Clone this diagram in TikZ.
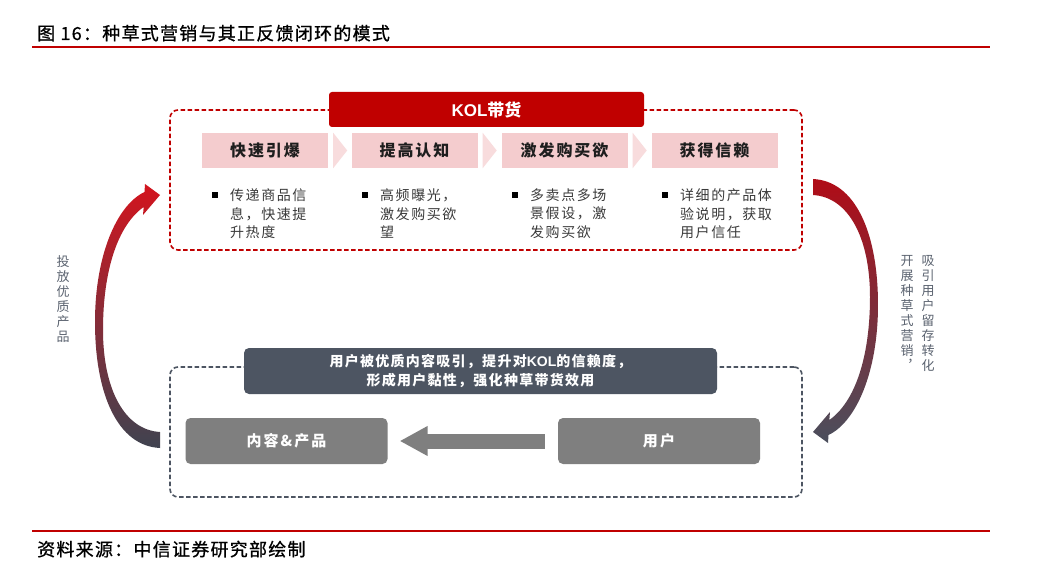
\documentclass[tikz,border=0pt]{standalone}
\usepackage{fontspec}
\setmainfont{Noto Sans CJK SC}
\newfontfamily\latinf{Liberation Sans}
\newfontfamily\cjkT[LetterSpace=7,FakeBold=0.8]{Noto Sans CJK SC}
\newfontfamily\cjkC[LetterSpace=12]{Noto Sans CJK SC}
\newfontfamily\cjkB[LetterSpace=11]{Noto Sans CJK SC}
\newfontfamily\cjkH[LetterSpace=9]{Noto Sans CJK SC}
\newfontfamily\cjkG[LetterSpace=14]{Noto Sans CJK SC}
\usetikzlibrary{arrows.meta,calc}
\definecolor{kred}{HTML}{C00000}
\definecolor{kslate}{HTML}{4D5562}
\definecolor{kgray}{HTML}{7F7F7F}
\definecolor{kpink}{HTML}{F4CCCE}
\definecolor{kpinkl}{HTML}{F8DCDD}
\definecolor{ktext}{HTML}{1E1E1E}
\definecolor{kbul}{HTML}{3A3A3A}
\definecolor{kvert}{HTML}{5B6370}
\definecolor{lred}{HTML}{D3141E}
\definecolor{lslate}{HTML}{3F4350}
\definecolor{rred}{HTML}{B00C17}
\definecolor{rslate}{HTML}{4A4F5D}
\tikzset{
  frame/.style={line width=1.6pt, dash pattern=on 4.5pt off 2.5pt, rounded corners=8pt, minimum width=632pt, inner sep=0pt},
  redhead/.style={fill=kred, rounded corners=3pt, minimum width=315pt, minimum height=35pt, inner sep=0pt, text=white, font=\fontsize{17}{19}\selectfont\bfseries},
  slatehead/.style={fill=kslate, rounded corners=5pt, minimum width=473pt, minimum height=46pt, inner sep=0pt, text=white, align=center, font=\cjkH\fontsize{14}{19}\selectfont\bfseries},
  chev/.style={fill=kpink, minimum width=126pt, minimum height=35pt, inner sep=0pt, text=ktext, font=\cjkC\fontsize{16}{18}\selectfont\bfseries},
  chevtip/.style={fill=kpinkl},
  bulsq/.style={fill=black, minimum size=6.5pt, inner sep=0pt},
  bultext/.style={anchor=north west, inner sep=0pt, align=left, text=kbul, font=\cjkB\fontsize{14}{18.5}\selectfont},
  graybox/.style={fill=kgray, rounded corners=5pt, minimum width=202pt, minimum height=46pt, inner sep=0pt, text=white, font=\cjkG\fontsize{15}{17}\selectfont\bfseries},
  grayarr/.style={draw=kgray, line width=15pt, -{Triangle[length=28pt,width=28pt]}},
  vtext/.style={anchor=north, inner sep=0pt, align=center, text=kvert, font=\fontsize{13}{15}\selectfont},
  rule/.style={draw=kred, line width=2.5pt},
  caption/.style={anchor=base west, inner sep=0pt, text=black, font=\cjkT\fontsize{18}{20}\selectfont}
}
\begin{document}
\begin{tikzpicture}[x=1pt,y=-1pt]
\useasboundingbox[fill=white] (0,0) rectangle (1037,588);

% title and footer
\node[caption] (title) at (37,40) {图 16：种草式营销与其正反馈闭环的模式};
\coordinate (tl) at (32,47); \coordinate (tr) at (990,47);
\draw[rule] (tl) -- (tr);
\coordinate (fl) at (32,531); \coordinate (fr) at (990,531);
\draw[rule] (fl) -- (fr);
\node[caption] (source) at (37,556) {资料来源：中信证券研究部绘制};

% top frame
\node[frame, draw=kred, minimum height=140pt] (topframe) at (486,180) {};
\node[redhead] (kol) at (486.5,109.5) {{\latinf\bfseries KOL}带货};

% chevrons
\node[chev] (c1) at (265,150.5) {快速引爆};
\node[chev] (c2) at (414.5,150.5) {提高认知};
\node[chev] (c3) at (564.5,150.5) {激发购买欲};
\node[chev] (c4) at (714.5,150.5) {获得信赖};
\foreach \a in {c1,c2,c3}{
  \fill[chevtip] ($(\a.north east)+(5,0)$) -- ($(\a.east)+(19,0)$) -- ($(\a.south east)+(5,0)$) -- cycle;
}

% bullets
\node[bulsq] (b1) at (215,195) {};
\node[bulsq] (b2) at (365,195) {};
\node[bulsq] (b3) at (515,195) {};
\node[bulsq] (b4) at (665,195) {};
\node[bultext] (t1) at (230,188.5) {传递商品信\\息，快速提\\升热度};
\node[bultext] (t2) at (380,188.5) {高频曝光，\\激发购买欲\\望};
\node[bultext] (t3) at (530,188.5) {多卖点多场\\景假设，激\\发购买欲};
\node[bultext] (t4) at (680,188.5) {详细的产品体\\验说明，获取\\用户信任};

% bottom frame
\node[frame, draw=kslate, minimum height=130pt] (botframe) at (486,432) {};
\node[slatehead] (fb) at (480.5,371) {用户被优质内容吸引，提升对{\latinf\bfseries KOL}的信赖度，\\形成用户黏性，强化种草带货效用};
\node[graybox] (content) at (286.5,441) {内容\&产品};
\node[graybox] (user) at (659,441) {用户};
\draw[grayarr] ($(user.west)+(-13,0)$) -- ($(content.east)+(12,0)$);

% curved arrows
\shade[top color=lred, bottom color=lslate]
  (160,448) .. controls (118,446) and (95,395) .. (95,322)
  .. controls (95,255) and (117,205) .. (144.5,192)
  -- (145,184) -- (160,195) -- (143,215) -- (143.7,207)
  .. controls (118,225) and (103,270) .. (103,330)
  .. controls (103,390) and (125,430) .. (160,432) -- cycle;
\shade[top color=rred, bottom color=rslate]
  (813,179) .. controls (855,181) and (878,232) .. (878,305)
  .. controls (878,372) and (856,422) .. (828.5,435)
  -- (828,443) -- (813,432) -- (830,412) -- (829.3,420)
  .. controls (855,402) and (870,357) .. (870,297)
  .. controls (870,237) and (848,197) .. (813,195) -- cycle;

% vertical labels
\node[vtext] (vl) at (63,255.5) {投\\放\\优\\质\\产\\品};
\node[vtext] (vr1) at (928,255.5) {吸\\引\\用\\户\\留\\存\\转\\化};
\node[vtext] (vr2) at (907,255.5) {开\\展\\种\\草\\式\\营\\销\\︐};
\end{tikzpicture}
\end{document}
